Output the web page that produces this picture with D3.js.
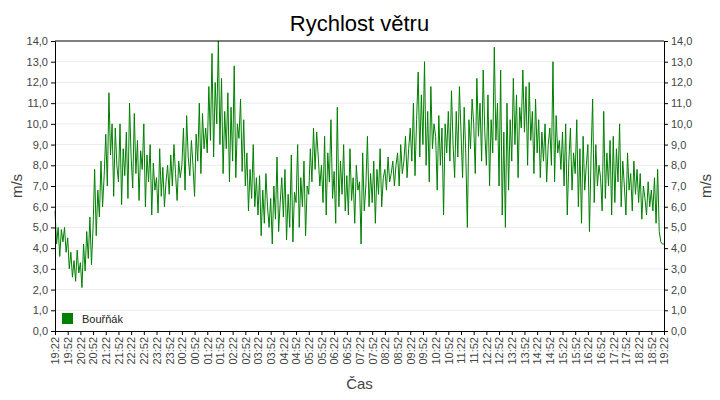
<!DOCTYPE html>
<html><head><meta charset="utf-8">
<script src="https://cdn.jsdelivr.net/npm/d3@7"></script>
<style>body{margin:0;background:#fff}</style>
</head><body><div id="chart"></div>
<script>
// wind speed, m/s, 8 samples per half hour from 19:22 to 19:22
const windSpeed = [
  5.8,4.2,5.0,3.6,4.9,4.3,5.0,3.8, 4.5,3.0,3.8,2.6,3.4,2.4,3.9,2.8,
  3.3,2.1,4.2,2.9,4.8,3.5,5.5,3.2, 5.0,7.8,4.6,6.8,5.5,8.2,6.0,7.5,
  9.5,7.0,11.5,8.5,10.0,6.5,9.8,8.0, 7.2,10.0,6.1,8.8,7.5,9.6,6.4,11.0,
  8.4,6.9,10.5,7.6,9.2,6.3,8.7,7.8, 10.0,6.0,8.5,7.2,9.0,5.6,8.1,6.8,
  7.4,5.7,8.8,6.5,7.9,6.0,7.2,8.0, 6.6,8.5,7.0,9.0,7.6,6.3,8.2,7.4,
  8.0,9.8,6.8,10.4,8.4,7.5,9.2,8.0, 6.5,9.5,8.2,11.0,7.6,10.5,8.8,9.8,
  8.6,11.8,9.2,13.4,8.4,12.0,10.0,14.0, 9.0,12.2,7.6,10.6,8.8,11.5,7.2,10.8,
  8.2,12.8,7.4,10.0,9.3,11.2,7.7,10.2, 7.0,8.6,5.8,7.8,6.4,9.0,6.0,7.4,
  5.6,7.5,4.6,6.8,5.2,7.6,6.0,5.0, 6.4,4.2,7.0,5.4,8.4,4.8,6.2,7.4,
  5.5,7.8,4.4,6.6,5.0,8.5,4.3,6.7, 6.2,9.0,5.0,7.4,6.0,8.2,4.6,7.0,
  6.6,8.8,7.2,9.8,7.8,9.6,8.4,7.0, 8.0,6.2,9.4,5.6,8.6,7.2,10.2,6.4,
  7.7,5.2,10.8,6.0,8.2,6.6,9.0,5.8, 7.5,5.6,8.8,6.3,7.4,5.2,8.0,6.8,
  7.2,4.2,8.6,5.8,7.0,9.4,6.0,7.6, 6.2,8.2,5.2,7.8,6.6,8.8,6.0,7.4,
  7.8,6.8,8.4,7.2,7.6,8.2,7.0,8.0, 8.6,7.0,9.0,7.6,8.2,9.4,7.4,8.8,
  9.8,8.2,11.0,7.5,10.2,12.5,8.4,11.4, 9.0,13.0,8.0,10.6,7.2,11.8,8.8,10.0,
  9.4,6.8,10.4,8.0,9.8,5.6,10.0,8.6, 10.6,8.2,11.6,9.0,7.4,10.6,8.4,11.8,
  9.6,7.4,10.8,8.6,5.0,10.2,8.8,11.2, 10.0,7.6,12.2,9.4,11.0,8.2,12.6,9.6,
  8.0,11.4,7.0,10.2,8.6,13.7,9.2,11.0, 7.0,12.6,5.6,9.6,5.0,11.0,6.8,10.2,
  8.2,12.2,9.0,11.4,7.4,10.8,9.8,12.6, 9.6,11.8,8.0,12.0,9.2,10.6,7.6,11.2,
  8.6,10.2,7.4,9.6,8.2,10.0,7.2,9.0, 9.8,8.0,13.0,7.2,10.4,8.6,9.2,7.8,
  9.6,7.0,10.0,5.6,8.2,9.8,6.8,8.6, 7.6,10.2,6.0,8.8,5.2,9.4,6.8,8.0,
  9.0,4.8,8.4,11.2,6.2,9.0,7.0,8.0, 7.4,5.8,10.6,6.4,8.6,7.0,9.2,5.6,
  9.4,6.2,8.8,7.2,10.0,6.0,8.2,7.0, 5.6,8.6,6.8,7.6,5.8,8.2,6.6,7.8,
  6.2,7.6,5.4,7.0,6.4,5.6,7.2,6.0, 6.8,5.8,7.4,5.2,7.8,4.8,4.3,4.2,
  4.2
];
const yTicks = [0,1,2,3,4,5,6,7,8,9,10,11,12,13,14];
const startTime = new Date(2020, 0, 1, 19, 22);
const endTime = new Date(2020, 0, 2, 19, 22);
const seriesName = "Bouřňák";

const W = 720, H = 400;
const m = {top: 41, right: 56, bottom: 69, left: 55};
const svg = d3.select("#chart").append("svg").attr("width", W).attr("height", H)
  .style("font-family", "Liberation Sans, Arial, sans-serif");

const x = d3.scaleTime().domain([startTime, endTime]).range([m.left, W - m.right]);
const y = d3.scaleLinear().domain([0, 14]).range([H - m.bottom, m.top]);
const step = (endTime - startTime) / (windSpeed.length - 1);
const xTicks = d3.range(49).map(i => new Date(+startTime + i * 30 * 60000));
const fmt = v => d3.format(".1f")(v).replace(".", ",");

// grid
svg.append("g").selectAll("line").data(yTicks.slice(1, -1)).join("line")
  .attr("x1", m.left).attr("x2", W - m.right)
  .attr("y1", d => y(d)).attr("y2", d => y(d))
  .attr("stroke", "#ebebeb");

// line
svg.append("path").datum(windSpeed)
  .attr("fill", "none").attr("stroke", "#008000").attr("stroke-width", 1)
  .attr("d", d3.line().x((d, i) => x(new Date(+startTime + i * step))).y(d => y(d)));

// frame
svg.append("line").attr("x1", m.left).attr("x2", W - m.right)
  .attr("y1", m.top).attr("y2", m.top).attr("stroke", "#000");

const styleAxis = g => {
  g.selectAll(".domain").attr("stroke", "#000");
  g.selectAll(".tick line").attr("stroke", "#000");
  g.selectAll("text").attr("fill", "#444").style("font-size", "11px");
};
svg.append("g").attr("transform", `translate(${m.left},0)`)
  .call(d3.axisLeft(y).tickValues(yTicks).tickFormat(fmt).tickSize(4).tickSizeOuter(0))
  .call(styleAxis);
svg.append("g").attr("transform", `translate(${W - m.right},0)`)
  .call(d3.axisRight(y).tickValues(yTicks).tickFormat(fmt).tickSize(4).tickSizeOuter(0))
  .call(styleAxis);
svg.append("g").attr("transform", `translate(0,${H - m.bottom})`)
  .call(d3.axisBottom(x).tickValues(xTicks).tickFormat(d3.timeFormat("%H:%M"))
    .tickSize(4).tickSizeOuter(0))
  .call(styleAxis)
  .selectAll("text")
  .attr("transform", "rotate(-90)").attr("text-anchor", "end")
  .attr("x", -6).attr("y", 0).attr("dy", "0.35em");

// titles
svg.append("text").attr("x", (m.left + W - m.right) / 2).attr("y", 31)
  .attr("text-anchor", "middle").style("font-size", "22px").attr("fill", "#000")
  .text("Rychlost větru");
svg.append("text").attr("transform", `translate(22,${(m.top + H - m.bottom) / 2}) rotate(-90)`)
  .attr("text-anchor", "middle").style("font-size", "15px").attr("fill", "#444").text("m/s");
svg.append("text").attr("transform", `translate(711,${(m.top + H - m.bottom) / 2}) rotate(-90)`)
  .attr("text-anchor", "middle").style("font-size", "15px").attr("fill", "#444").text("m/s");
svg.append("text").attr("x", (m.left + W - m.right) / 2).attr("y", 389)
  .attr("text-anchor", "middle").style("font-size", "15px").attr("fill", "#444").text("Čas");

// legend
svg.append("rect").attr("x", 62).attr("y", 313).attr("width", 11).attr("height", 11).attr("fill", "#008000");
svg.append("text").attr("x", 82).attr("y", 323).style("font-size", "11px").attr("fill", "#222").text(seriesName);
</script></body></html>
